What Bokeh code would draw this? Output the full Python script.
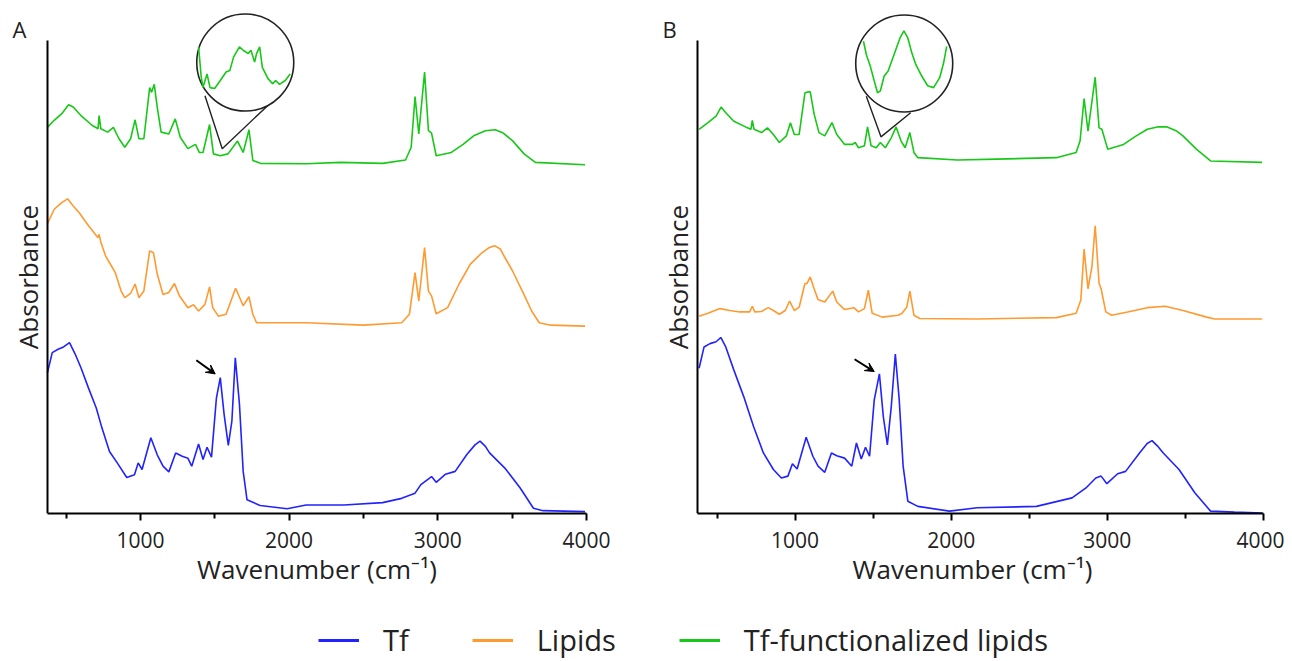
from bokeh.plotting import figure
from bokeh.layouts import column, row
from bokeh.models import (FixedTicker, Label, Legend, LegendItem, Arrow, VeeHead, Range1d)
from bokeh.embed import file_html
from bokeh.resources import INLINE

FONT = "Open Sans"
BLUE = "#2222ff"
ORANGE = "#ff9a30"
GREEN = "#18c818"

# ---------------- Panel A data (wavenumber, offset absorbance a.u.) ----------------
a_tf_x = [374, 407, 446, 483, 523, 561, 600, 651, 703, 741, 792, 844, 908, 960, 985, 1011, 1070, 1113,
          1152, 1191, 1237, 1281, 1319, 1345, 1391, 1421, 1448, 1478, 1511, 1537, 1563, 1591, 1615, 1638,
          1666, 1691, 1717, 1805, 1987, 2114, 2369, 2629, 2757, 2847, 2886, 2958, 2989, 3052, 3117, 3194,
          3250, 3284, 3320, 3348, 3451, 3554, 3643, 3707, 3990]
a_tf_y = [29.7, 34.0, 34.7, 35.2, 36.1, 33.7, 30.8, 26.5, 22.3, 18.1, 13.1, 10.7, 7.6, 8.2, 10.7, 9.3, 16.0,
          12.4, 10.0, 8.8, 12.8, 12.1, 11.7, 10.0, 14.7, 11.4, 14.0, 11.9, 24.4, 28.7, 20.9, 14.4, 19.5, 32.9,
          23.1, 8.9, 2.9, 1.7, 1.0, 1.8, 1.8, 2.3, 3.2, 4.3, 6.1, 7.8, 6.6, 8.3, 8.9, 12.4,
          14.5, 15.3, 14.2, 12.8, 9.6, 5.4, 1.1, 0.6, 0.4]

a_lip_x = [374, 420, 471, 510, 548, 587, 651, 715, 722, 734, 766, 805, 831, 870, 895, 934, 964, 990, 1023,
           1062, 1088, 1113, 1152, 1191, 1229, 1262, 1319, 1357, 1391, 1434, 1465, 1486, 1524, 1576, 1640,
           1691, 1730, 1756, 1781, 2115, 2501, 2757, 2809, 2847, 2872, 2911, 2937, 2958, 2989, 3066, 3143,
           3219, 3297, 3340, 3381, 3420, 3451, 3502, 3579, 3631, 3682, 3759, 3990]
a_lip_y = [61.2, 64.3, 65.7, 66.5, 65.0, 63.6, 60.8, 58.3, 59.0, 57.3, 54.4, 52.3, 50.9, 47.0, 45.6, 46.5,
           48.5, 45.6, 47.0, 55.5, 55.1, 50.6, 46.3, 46.7, 48.6, 46.0, 43.5, 44.1, 42.8, 44.2, 47.9, 43.5,
           41.7, 42.1, 47.6, 43.9, 45.8, 42.1, 40.3, 40.3, 39.8, 40.3, 42.1, 50.9, 44.9, 56.2, 47.0, 46.0,
           42.2, 43.5, 48.5, 52.7, 55.1, 56.1, 56.6, 55.9, 54.1, 51.3, 46.3, 42.8, 40.3, 39.8, 39.6]

a_tfl_x = [374, 420, 471, 517, 548, 600, 677, 715, 722, 734, 780, 818, 856, 895, 934, 964, 990, 1023, 1062,
           1075, 1093, 1113, 1139, 1191, 1234, 1268, 1319, 1370, 1396, 1421, 1465, 1491, 1537, 1589, 1653,
           1691, 1730, 1756, 1807, 2115, 2346, 2629, 2783, 2821, 2847, 2872, 2911, 2937, 2958, 2989, 3091,
           3170, 3245, 3320, 3386, 3440, 3502, 3580, 3656, 3990]
a_tfl_y = [81.6, 83.1, 84.5, 86.4, 85.9, 84.1, 82.0, 81.3, 84.1, 81.3, 80.6, 81.6, 79.2, 77.4, 79.2, 83.2,
           79.2, 79.2, 90.0, 89.0, 90.7, 85.9, 80.6, 80.2, 83.4, 79.5, 77.1, 78.0, 76.3, 76.3, 82.2, 76.0,
           75.6, 76.0, 78.7, 76.3, 81.1, 74.6, 74.0, 73.9, 74.2, 74.0, 74.7, 77.4, 88.1, 80.2, 93.3, 80.9,
           80.4, 75.6, 76.3, 78.0, 79.9, 80.9, 81.1, 80.4, 78.8, 76.0, 74.2, 73.7]

# magnified inset trace (drawn inside the circle)
a_zoom_x = [1391, 1409, 1421, 1448, 1468, 1499, 1537, 1576, 1601, 1627, 1666, 1691, 1725, 1743, 1768, 1781,
            1802, 1820, 1858, 1889, 1909, 1935, 1974, 2007]
a_zoom_y = [98.6, 92.2, 90.1, 92.9, 90.0, 89.8, 91.5, 93.3, 93.6, 96.5, 98.6, 97.9, 97.2, 97.9, 95.4, 97.2,
            98.6, 94.3, 91.9, 90.8, 91.5, 90.7, 91.5, 92.9]
a_circle = (1705, 95.3)
a_pointer_x = [1434, 1550, 1859]
a_pointer_y = [88.3, 77.1, 86.3]
a_arrow = (1376, 32.4, 1503, 29.5)

# ---------------- Panel B data ----------------
b_tf_x = [385, 417, 455, 494, 524, 556, 608, 671, 734, 797, 861, 912, 954, 983, 1013, 1071, 1114, 1147,
          1190, 1233, 1267, 1317, 1363, 1393, 1424, 1451, 1477, 1507, 1540, 1565, 1591, 1616, 1642, 1667,
          1692, 1722, 1786, 1989, 2166, 2546, 2774, 2863, 2926, 2960, 2997, 3066, 3117, 3206, 3255, 3286,
          3320, 3358, 3459, 3560, 3661, 3814, 3991]
b_tf_y = [30.7, 35.2, 35.9, 36.3, 37.2, 35.2, 30.3, 24.7, 18.4, 12.8, 9.3, 7.5, 7.9, 10.5, 9.4, 16.1, 12.1,
          10.0, 8.7, 12.8, 12.2, 11.7, 10.0, 14.9, 11.5, 14.0, 12.1, 24.0, 29.5, 20.5, 14.5, 22.6, 33.7,
          24.0, 10.0, 2.6, 1.5, 0.5, 1.2, 1.5, 3.3, 5.4, 7.5, 7.9, 6.3, 8.4, 8.9, 12.8, 14.8, 15.4,
          14.3, 12.8, 9.3, 4.4, 0.5, 0.3, 0.1]

b_lip_x = [385, 442, 519, 582, 646, 709, 726, 742, 785, 828, 861, 899, 937, 965, 995, 1026, 1063, 1076,
           1097, 1122, 1147, 1190, 1241, 1267, 1317, 1376, 1406, 1444, 1469, 1494, 1558, 1659, 1685, 1715,
           1735, 1761, 1799, 2166, 2673, 2800, 2830, 2851, 2876, 2901, 2922, 2947, 2960, 2990, 3028, 3130,
           3256, 3370, 3484, 3636, 3687, 3991]
b_lip_y = [41.7, 42.3, 43.3, 42.9, 42.6, 42.6, 43.8, 42.6, 42.7, 43.5, 42.9, 42.1, 42.9, 44.9, 42.9, 43.6,
           48.6, 48.6, 50.0, 47.5, 45.2, 44.7, 47.0, 44.7, 43.1, 43.5, 42.6, 43.3, 47.2, 42.3, 41.5, 41.9,
           42.3, 43.6, 47.0, 41.9, 41.2, 41.1, 41.4, 42.3, 45.1, 55.9, 47.5, 52.1, 60.8, 48.6, 47.5, 42.6,
           41.9, 42.6, 43.5, 43.8, 42.9, 41.5, 41.1, 41.1]

b_tfl_x = [385, 442, 494, 526, 556, 608, 683, 717, 726, 737, 785, 823, 861, 899, 944, 970, 995, 1026, 1063,
           1081, 1097, 1122, 1153, 1190, 1236, 1267, 1317, 1368, 1385, 1406, 1444, 1464, 1487, 1520, 1546,
           1578, 1616, 1647, 1679, 1705, 1735, 1761, 1786, 2040, 2293, 2673, 2800, 2825, 2851, 2876, 2922,
           2947, 2965, 3002, 3104, 3180, 3256, 3320, 3383, 3440, 3484, 3570, 3661, 3991]
b_tfl_y = [81.2, 82.6, 84.0, 85.9, 84.7, 82.9, 81.7, 81.2, 83.1, 81.2, 80.5, 81.5, 80.1, 78.4, 79.8, 82.6,
           80.1, 80.1, 88.9, 89.1, 89.1, 84.4, 80.5, 79.8, 82.6, 80.1, 78.0, 78.0, 78.4, 77.3, 77.7, 81.7,
           77.7, 77.3, 78.4, 77.3, 79.4, 81.7, 78.7, 77.3, 80.5, 76.3, 75.2, 74.7, 74.9, 75.2, 76.3, 78.7,
           87.7, 80.8, 92.2, 81.5, 81.2, 77.0, 78.0, 79.7, 81.2, 81.7, 81.7, 80.9, 79.8, 77.0, 74.5, 74.2]

b_zoom_x = [1438, 1456, 1482, 1507, 1528, 1546, 1570, 1596, 1634, 1672, 1697, 1722, 1748, 1773, 1812, 1849,
            1887, 1926, 1951, 1971]
b_zoom_y = [99.8, 97.0, 94.5, 91.4, 88.9, 89.3, 92.4, 93.5, 97.0, 100.5, 102.0, 100.5, 97.3, 94.9, 92.4,
            90.4, 90.0, 92.1, 95.2, 98.7]
b_circle = (1699, 95.1)
b_pointer_x = [1456, 1550, 1740]
b_pointer_y = [88.2, 79.6, 84.7]
b_arrow = (1381, 32.6, 1507, 30.0)

x_major = [1000, 2000, 3000, 4000]
x_minor = [500, 1500, 2500, 3500]
x_axis_start = 375
x_axis_end = 4000


def panel(letter, letter_x, width, border_left, view, data, zoom, circle, pointer, arrow):
    p = figure(width=width, height=608, output_backend="svg", toolbar_location=None,
               x_range=Range1d(view[0], view[1]), y_range=Range1d(0, 106.3),
               min_border_left=border_left, min_border_right=0,
               min_border_top=10, min_border_bottom=95)
    p.outline_line_color = None
    p.grid.visible = False
    (tx, ty), (lx, ly), (gx, gy) = data
    p.line(tx, ty, line_color=BLUE, line_width=1.6)
    p.line(lx, ly, line_color=ORANGE, line_width=1.6)
    p.line(gx, gy, line_color=GREEN, line_width=1.6)
    # magnifier
    p.line(pointer[0], pointer[1], line_color="#222222", line_width=1.4)
    p.scatter([circle[0]], [circle[1]], marker="circle", size=97, fill_color="white",
              line_color="#222222", line_width=1.6)
    p.line(zoom[0], zoom[1], line_color=GREEN, line_width=1.6)
    p.add_layout(Arrow(end=VeeHead(size=9, fill_color="black", line_color="black"),
                       x_start=arrow[0], y_start=arrow[1], x_end=arrow[2], y_end=arrow[3],
                       line_width=2, line_color="black"))
    xa = p.xaxis[0]
    xa.ticker = FixedTicker(ticks=x_major, minor_ticks=x_minor)
    xa.bounds = (x_axis_start, x_axis_end)
    xa.axis_line_width = 2
    xa.major_tick_line_width = 2
    xa.minor_tick_line_width = 2
    xa.major_tick_in = 0
    xa.major_tick_out = 7
    xa.minor_tick_in = 0
    xa.minor_tick_out = 5
    xa.major_label_text_font = FONT
    xa.major_label_text_font_size = "21px"
    xa.major_label_text_color = "#222222"
    xa.major_label_standoff = 11
    xa.axis_label = "Wavenumber (cm\u207b\u00b9)"
    xa.axis_label_text_font = FONT
    xa.axis_label_text_font_size = "26px"
    xa.axis_label_text_font_style = "normal"
    xa.axis_label_text_color = "#222222"
    xa.axis_label_standoff = 0
    ya = p.yaxis[0]
    ya.fixed_location = x_axis_start
    ya.ticker = FixedTicker(ticks=[])
    ya.bounds = (0, 100)
    ya.axis_line_width = 2
    ya.major_tick_in = 0
    ya.major_tick_out = 0
    ya.major_tick_line_color = None
    ya.minor_tick_line_color = None
    ya.axis_label = "Absorbance"
    ya.axis_label_text_font = FONT
    ya.axis_label_text_font_size = "26px"
    ya.axis_label_text_font_style = "normal"
    ya.axis_label_text_color = "#222222"
    ya.axis_label_standoff = 2
    p.add_layout(Label(x=letter_x, y=102.4, text=letter,
                       text_font=FONT, text_font_size="22px", text_baseline="alphabetic",
                       text_color="#222222"))
    return p


pA = panel("A", 140, 622, 11, (132.9, 4242.1),
           [(a_tf_x, a_tf_y), (a_lip_x, a_lip_y), (a_tfl_x, a_tfl_y)],
           (a_zoom_x, a_zoom_y), a_circle, (a_pointer_x, a_pointer_y), a_arrow)
pB = panel("B", 151, 662, 38, (138.0, 4134.5),
           [(b_tf_x, b_tf_y), (b_lip_x, b_lip_y), (b_tfl_x, b_tfl_y)],
           (b_zoom_x, b_zoom_y), b_circle, (b_pointer_x, b_pointer_y), b_arrow)

# legend strip (its lines lie outside the visible range; only the legend shows)
pL = figure(width=1284, height=53, output_backend="svg", toolbar_location=None,
            x_range=Range1d(0, 1), y_range=Range1d(0, 1),
            x_axis_location=None, y_axis_location=None,
            min_border_left=0, min_border_right=0, min_border_top=0, min_border_bottom=0)
pL.outline_line_color = None
pL.grid.visible = False
r1 = pL.line(a_tf_x, a_tf_y, line_color=BLUE, line_width=3)
r2 = pL.line(a_lip_x, a_lip_y, line_color=ORANGE, line_width=3)
r3 = pL.line(a_tfl_x, a_tfl_y, line_color=GREEN, line_width=3)
leg = Legend(items=[LegendItem(label="Tf", renderers=[r1]),
                    LegendItem(label="Lipids", renderers=[r2]),
                    LegendItem(label="Tf-functionalized lipids", renderers=[r3])],
             orientation="horizontal", location=(318, 2),
             glyph_width=41, glyph_height=24, label_height=24, label_standoff=24, spacing=63,
             padding=0, margin=0, border_line_color=None, background_fill_alpha=0,
             label_text_font=FONT, label_text_font_size="29px", label_text_color="#222222")
pL.add_layout(leg)

layout = column(row(pA, pB), pL)
open("out.html", "w").write(file_html(layout, INLINE))
